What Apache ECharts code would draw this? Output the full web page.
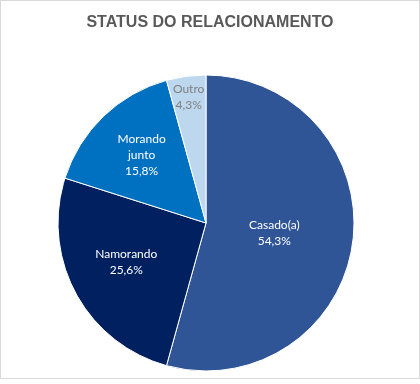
<!DOCTYPE html>
<html>
<head>
<meta charset="utf-8">
<script src="https://cdn.jsdelivr.net/npm/echarts@6/dist/echarts.min.js"></script>
<style>
html,body{margin:0;padding:0;background:#fff;}
#wrap{position:absolute;left:0;top:0;width:418px;height:377px;border:1px solid #d9d9d9;background:#fff;}
#chart{width:418px;height:377px;}
</style>
</head>
<body>
<div id="wrap"><div id="chart"></div></div>
<script>
const title = 'STATUS DO RELACIONAMENTO';
const categories = ['Casado(a)', 'Namorando', 'Morando\njunto', 'Outro'];
const values = [54.3, 25.6, 15.8, 4.3];
const colors = ['#2F5597', '#002060', '#0070C0', '#BDD7EE'];
const labelColors = ['#ffffff', '#ffffff', '#ffffff', '#7f7f7f'];
const labelShift = [[-8, 0], [-12, 2], [-11, -12], [-7, -50]];

const chart = echarts.init(document.getElementById('chart'), null, {renderer: 'canvas'});
const data = categories.map((c, i) => ({
  name: c,
  value: values[i],
  itemStyle: {color: colors[i]},
  label: {color: labelColors[i]}
}));
chart.setOption({
  animation: false,
  title: {
    text: title,
    left: 'center',
    top: 9,
    textStyle: {fontFamily: 'Liberation Sans, Arial', fontSize: 16, fontWeight: 'bold', color: '#595959'}
  },
  series: [{
    type: 'pie',
    center: [205, 222],
    radius: 148,
    startAngle: 90,
    clockwise: true,
    data: data,
    itemStyle: {borderColor: '#ffffff', borderWidth: 1},
    label: {
      position: 'inside',
      fontFamily: 'Lato, Open Sans, sans-serif',
      fontSize: 12,
      lineHeight: 16,
      align: 'center',
      formatter: p => p.name + '\n' + p.value.toFixed(1).replace('.', ',') + '%'
    },
    labelLine: {show: false},
    labelLayout: p => ({dx: labelShift[p.dataIndex][0], dy: labelShift[p.dataIndex][1]}),
    emphasis: {disabled: true}
  }]
});
</script>
</body>
</html>
